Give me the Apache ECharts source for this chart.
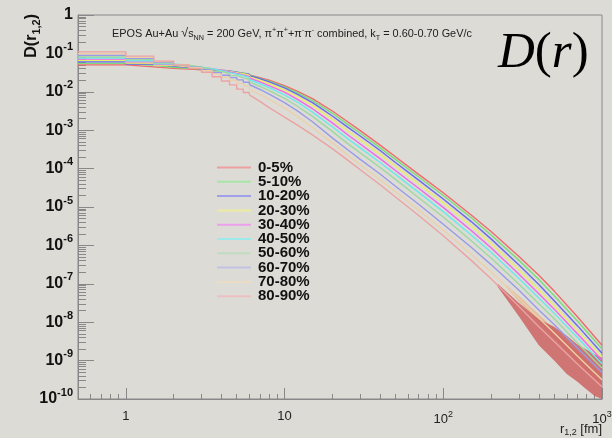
<!DOCTYPE html>
<html><head><meta charset="utf-8">
<script src="https://cdn.jsdelivr.net/npm/echarts@6/dist/echarts.min.js"></script>
<style>html,body{margin:0;padding:0;background:#dddbd6;} #c{width:612px;height:438px;}</style>
</head><body><div id="c"></div>
<script>
// ---- categories ----
const centralities = ['0-5%','5-10%','10-20%','20-30%','30-40%','40-50%','50-60%','60-70%','70-80%','80-90%'];
const lineColors   = ['#ef6a6a','#7adc7a','#6a6aea','#ecec66','#ec6aec','#68eaea','#9ed89e','#9a9ae6','#ecd0aa','#eca2a2'];
const legendColors = ['#eea0a0','#a8e6a8','#a0a0ea','#ecec9e','#eca0ec','#9eeaea','#c0dcc0','#c2c2e4','#ecdcc4','#ecc0c0'];

// ---- axis ticks / labels ----
const xMajorTicks = [1, 10, 100, 1000];
const xTickLabels = ['1', '10', '{n|10}{s|2}', '{n|10}{s|3}'];
const xMinorTicks = [0.6,0.7,0.8,0.9, 2,3,4,5,6,7,8,9, 20,30,40,50,60,70,80,90, 200,300,400,500,600,700,800,900];
const yMajorTicks = [1e-10,1e-9,1e-8,1e-7,1e-6,1e-5,1e-4,1e-3,1e-2,1e-1,1];
const yTickLabels = ['{b|10}{s|-10}','{b|10}{s|-9}','{b|10}{s|-8}','{b|10}{s|-7}','{b|10}{s|-6}','{b|10}{s|-5}','{b|10}{s|-4}','{b|10}{s|-3}','{b|10}{s|-2}','{b|10}{s|-1}','{b|1}'];
const yMinorMantissa = [2,3,4,5,6,7,8,9];
const yMinorDecades = [1e-10,1e-9,1e-8,1e-7,1e-6,1e-5,1e-4,1e-3,1e-2,1e-1];

// ---- histogram bins at small r (bin lower edges, last = upper edge), log10 D per bin ----
const stepEdges = [0.5,1,1.5,2,2.5,3,3.5,4,4.5,5,5.5,6];
const logD_step_0_5   = [-1.30,-1.35,-1.39,-1.41,-1.43,-1.44,-1.46,-1.48,-1.50,-1.52,-1.54];
const logD_step_5_10  = [-1.26,-1.31,-1.36,-1.39,-1.41,-1.43,-1.45,-1.47,-1.49,-1.51,-1.54];
const logD_step_10_20 = [-1.22,-1.28,-1.33,-1.37,-1.40,-1.42,-1.44,-1.46,-1.49,-1.52,-1.55];
const logD_step_20_30 = [-1.18,-1.25,-1.31,-1.35,-1.38,-1.41,-1.44,-1.47,-1.50,-1.53,-1.57];
const logD_step_30_40 = [-1.15,-1.22,-1.29,-1.33,-1.37,-1.40,-1.44,-1.48,-1.52,-1.56,-1.60];
const logD_step_40_50 = [-1.12,-1.19,-1.27,-1.32,-1.36,-1.40,-1.45,-1.50,-1.54,-1.58,-1.63];
const logD_step_50_60 = [-1.09,-1.16,-1.25,-1.31,-1.36,-1.41,-1.47,-1.52,-1.58,-1.63,-1.68];
const logD_step_60_70 = [-1.05,-1.13,-1.23,-1.30,-1.36,-1.43,-1.50,-1.57,-1.63,-1.69,-1.75];
const logD_step_70_80 = [-1.01,-1.10,-1.21,-1.29,-1.37,-1.45,-1.54,-1.62,-1.70,-1.78,-1.85];
const logD_step_80_90 = [-0.96,-1.07,-1.20,-1.30,-1.39,-1.49,-1.61,-1.72,-1.82,-1.93,-2.02];

// ---- larger r: log10 D read at these r values ----
const tailR = [6,7,8,10,12,15,20,25,30,40,50,70,100,150,200,300,400,500,700,1000];
const logD_tail_0_5   = [-1.56,-1.63,-1.70,-1.84,-1.98,-2.18,-2.50,-2.78,-3.01,-3.39,-3.69,-4.15,-4.63,-5.21,-5.64,-6.29,-6.78,-7.19,-7.86,-8.60];
const logD_tail_5_10  = [-1.57,-1.65,-1.72,-1.87,-2.02,-2.23,-2.56,-2.85,-3.08,-3.46,-3.76,-4.22,-4.70,-5.28,-5.73,-6.39,-6.89,-7.31,-7.97,-8.70];
const logD_tail_10_20 = [-1.58,-1.66,-1.74,-1.90,-2.06,-2.28,-2.63,-2.92,-3.15,-3.53,-3.84,-4.30,-4.79,-5.38,-5.83,-6.51,-7.02,-7.44,-8.09,-8.81];
const logD_tail_20_30 = [-1.61,-1.70,-1.79,-1.96,-2.12,-2.36,-2.72,-3.02,-3.25,-3.63,-3.94,-4.40,-4.89,-5.49,-5.95,-6.64,-7.16,-7.57,-8.22,-8.91];
const logD_tail_30_40 = [-1.64,-1.74,-1.84,-2.01,-2.19,-2.44,-2.81,-3.12,-3.36,-3.74,-4.05,-4.51,-5.01,-5.61,-6.06,-6.75,-7.26,-7.66,-8.30,-8.99];
const logD_tail_40_50 = [-1.68,-1.79,-1.89,-2.08,-2.26,-2.53,-2.91,-3.22,-3.46,-3.84,-4.15,-4.62,-5.12,-5.73,-6.18,-6.86,-7.37,-7.77,-8.40,-9.08];
const logD_tail_50_60 = [-1.74,-1.86,-1.97,-2.17,-2.37,-2.64,-3.03,-3.35,-3.59,-3.97,-4.28,-4.76,-5.26,-5.88,-6.33,-7.01,-7.52,-7.91,-8.54,-9.19];
const logD_tail_60_70 = [-1.81,-1.94,-2.06,-2.28,-2.49,-2.78,-3.20,-3.51,-3.76,-4.14,-4.46,-4.93,-5.45,-6.05,-6.50,-7.17,-7.68,-8.06,-8.67,-9.31];
const logD_tail_70_80 = [-1.93,-2.07,-2.20,-2.42,-2.64,-2.93,-3.33,-3.65,-3.90,-4.29,-4.60,-5.08,-5.60,-6.23,-6.69,-7.38,-7.89,-8.28,-8.88,-9.50];
const logD_tail_80_90 = [-2.08,-2.25,-2.41,-2.66,-2.86,-3.12,-3.48,-3.78,-4.03,-4.42,-4.74,-5.22,-5.75,-6.39,-6.87,-7.59,-8.12,-8.50,-9.09,-9.68];

// ---- statistical-noise envelopes at large r (upper / lower log10 D) ----
const noiseR_80_90  = [220, 300, 400, 500, 600, 700, 800, 900, 1000];
const noiseHi_80_90 = [-7.00,-7.50,-7.92,-8.12,-8.35,-8.58,-8.72,-8.84,-8.92];
const noiseLo_80_90 = [-7.08,-7.85,-8.60,-9.00,-9.35,-9.55,-9.75,-9.92,-10.0];
const noiseR_70_80  = [250, 300, 400, 500, 700, 1000];
const noiseHi_70_80 = [-7.04,-7.32,-7.80,-8.18,-8.76,-9.35];
const noiseLo_70_80 = [-7.10,-7.46,-8.00,-8.42,-9.05,-9.70];

const stepLogs = [logD_step_0_5,logD_step_5_10,logD_step_10_20,logD_step_20_30,logD_step_30_40,logD_step_40_50,logD_step_50_60,logD_step_60_70,logD_step_70_80,logD_step_80_90];
const tailLogs = [logD_tail_0_5,logD_tail_5_10,logD_tail_10_20,logD_tail_20_30,logD_tail_30_40,logD_tail_40_50,logD_tail_50_60,logD_tail_60_70,logD_tail_70_80,logD_tail_80_90];

const FONT = '"Liberation Sans", Arial, Helvetica, sans-serif';
const SERIF = '"Liberation Serif", "DejaVu Serif", serif';
const AXC = '#888888';
const toD = v => Math.pow(10, v);

const series = [];
centralities.forEach((name, i) => {
  const st = stepLogs[i], tl = tailLogs[i];
  const stepData = st.map((v, k) => [stepEdges[k], toD(v)]);
  stepData.push([stepEdges[st.length], toD(tl[0])]);
  const common = {type:'line', name, symbol:'none', showSymbol:false, silent:true, clip:true,
    color: lineColors[i], lineStyle:{width:1.4, color: lineColors[i]}, emphasis:{disabled:true}};
  series.push(Object.assign({}, common, {data: stepData, step:'end'}));
  series.push(Object.assign({}, common, {data: tailR.map((r, k) => [r, toD(tl[k])]), smooth:false}));
});

function noiseBand(rs, hi, lo, color, opacity) {
  return {
    type:'custom', silent:true, clip:true, z:3,
    data: rs.map((r, k) => [r, toD(hi[k]), toD(lo[k])]),
    renderItem: (params, api) => {
      if (params.dataIndex !== 0) return null;
      const pts = [];
      for (let k = 0; k < rs.length; k++) pts.push(api.coord([rs[k], toD(hi[k])]));
      for (let k = rs.length - 1; k >= 0; k--) pts.push(api.coord([rs[k], toD(lo[k])]));
      return {type:'polygon', shape:{points:pts}, style:{fill:color, opacity:opacity}};
    }
  };
}
series.push(noiseBand(noiseR_70_80, noiseHi_70_80, noiseLo_70_80, '#e4b088', 0.7));
series.push(noiseBand(noiseR_80_90, noiseHi_80_90, noiseLo_80_90, '#cc5e5e', 0.82));

const findIdx = (arr, v) => arr.findIndex(t => Math.abs(Math.log10(t / v)) < 1e-6);
const yMinorTicks = [];
yMinorDecades.forEach(d => yMinorMantissa.forEach(m => yMinorTicks.push(m * d)));

const chart = echarts.init(document.getElementById('c'), null, {renderer:'canvas'});
chart.setOption({
  animation:false,
  backgroundColor:'#dddbd6',
  grid:{left:78, right:10, top:15, bottom:39, show:true, borderColor:AXC, borderWidth:1, backgroundColor:'transparent', containLabel:false, outerBoundsMode:'none'},
  xAxis:[
    {type:'log', logBase:10, min:0.5, max:1000, position:'bottom',
     axisLine:{show:true, lineStyle:{color:AXC, width:1}},
     axisTick:{show:true, inside:true, length:11, customValues:xMajorTicks, lineStyle:{color:AXC, width:1}},
     axisLabel:{show:true, customValues:xMajorTicks, margin:11, color:'#222', fontFamily:FONT, fontSize:13,
       formatter: v => { const k = findIdx(xMajorTicks, v); return k < 0 ? '' : xTickLabels[k]; },
       rich:{n:{fontSize:13, fontFamily:FONT, color:'#222', lineHeight:18}, s:{fontSize:9, fontFamily:FONT, color:'#222', lineHeight:10, verticalAlign:'top'}}},
     splitLine:{show:false}, minorTick:{show:false}, minorSplitLine:{show:false}},
    {type:'log', logBase:10, min:0.5, max:1000, position:'bottom',
     axisLine:{show:false}, axisLabel:{show:false}, splitLine:{show:false},
     axisTick:{show:true, inside:true, length:5, customValues:xMinorTicks, lineStyle:{color:AXC, width:1}}}
  ],
  yAxis:[
    {type:'log', logBase:10, min:1e-10, max:1, position:'left',
     axisLine:{show:true, lineStyle:{color:AXC, width:1}},
     axisTick:{show:true, inside:true, length:16, customValues:yMajorTicks, lineStyle:{color:AXC, width:1}},
     axisLabel:{show:true, customValues:yMajorTicks, margin:5, color:'#111', fontFamily:FONT,
       formatter: v => { const k = findIdx(yMajorTicks, v); return k < 0 ? '' : yTickLabels[k]; },
       rich:{b:{fontSize:16, fontWeight:'bold', fontFamily:FONT, color:'#111', lineHeight:24},
             s:{fontSize:11, fontWeight:'bold', fontFamily:FONT, color:'#111', lineHeight:12, verticalAlign:'top'}}},
     splitLine:{show:false}, minorTick:{show:false}, minorSplitLine:{show:false}},
    {type:'log', logBase:10, min:1e-10, max:1, position:'left',
     axisLine:{show:false}, axisLabel:{show:false}, splitLine:{show:false},
     axisTick:{show:true, inside:true, length:8, customValues:yMinorTicks, lineStyle:{color:AXC, width:1}}}
  ],
  legend:{orient:'vertical', left:217, top:160, padding:0, itemWidth:34, itemHeight:2, itemGap:-0.7, icon:'rect', selectedMode:false,
    data: centralities.map((n, i) => ({name:n, itemStyle:{color:legendColors[i]}})),
    textStyle:{fontSize:15, fontWeight:'bold', fontFamily:FONT, color:'#111', padding:[0,0,0,2]}},
  graphic:[
    {type:'text', x:112, y:34, silent:true, style:{
      text:'EPOS Au+Au {sq|√}s{sub|NN} = 200 GeV, π{sup|+}π{sup|+}+π{sup|-}π{sup|-} combined, k{sub|T} = 0.60-0.70 GeV/c',
      fontFamily:FONT, fontSize:10.9, fill:'#222', lineHeight:15, align:'left', verticalAlign:'middle',
      rich:{sub:{fontSize:7.2, fontFamily:FONT, fill:'#222', lineHeight:9, verticalAlign:'bottom'},
            sup:{fontSize:7.2, fontFamily:FONT, fill:'#222', lineHeight:9, verticalAlign:'top'},
            sq:{fontSize:12.5, fontFamily:FONT, fill:'#222', lineHeight:15}}}},
    {type:'text', x:498, y:54, silent:true, style:{
      text:'{i|D}{u|(}{i|r}{u|)}', align:'left', verticalAlign:'middle',
      rich:{i:{fontFamily:SERIF, fontStyle:'italic', fontSize:51, fill:'#000'},
            u:{fontFamily:SERIF, fontSize:51, fill:'#000'}}}},
    {type:'text', x:32, y:14, rotation:Math.PI/2, silent:true, style:{
      text:'{b|D(r}{sub|1,2}{b|)}', align:'right', verticalAlign:'middle',
      rich:{b:{fontFamily:FONT, fontWeight:'bold', fontSize:16, fill:'#111', lineHeight:20},
            sub:{fontFamily:FONT, fontWeight:'bold', fontSize:11, fill:'#111', lineHeight:11, verticalAlign:'bottom'}}}},
    {type:'text', x:602, y:429, silent:true, style:{
      text:'{n|r}{sub|1,2}{n| [fm]}', align:'right', verticalAlign:'middle',
      rich:{n:{fontFamily:FONT, fontSize:13, fill:'#222', lineHeight:16},
            sub:{fontFamily:FONT, fontSize:9, fill:'#222', lineHeight:9, verticalAlign:'bottom'}}}}
  ],
  series: series
});
</script></body></html>
